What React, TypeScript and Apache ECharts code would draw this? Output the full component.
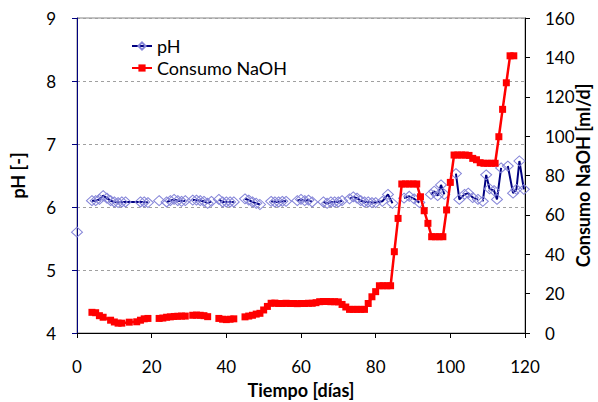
import React, { useEffect, useRef } from "react";
import * as echarts from "echarts";

// pH measurements: [day], null value = gap in the line
const phDays = [
  0, 2,
  4, 5, 6, 7, 8, 9, 10, 11, 12, 13, 17, 18, 19, 20.5,
  22, 23,
  24, 25, 26, 27, 28, 29, 30,
  31, 32, 33, 34, 35, 36, 37,
  38, 39, 40, 41, 42, 43.5,
  45, 46, 47, 48, 49, 50.5,
  52, 53, 54, 55, 56, 57.5,
  59, 60, 61, 62, 63, 64.5,
  66, 67, 68, 69, 70, 71, 72,
  73, 74, 75, 76, 77, 78, 79, 80, 81.8, 83.3, 84.5, 86,
  87.6, 89, 90.3, 91.7, 93,
  94.8, 95.7, 96.6, 97.5, 98.4, 100,
  101.5, 102.4, 103.8, 104.8, 106, 107.4, 108,
  108.7, 109.6, 110.5, 111.7, 112.5, 113.6, 114.5,
  115.4, 116.8, 117.7, 118.5, 119.7,
];
const phValues = [
  5.6, null,
  6.1, 6.1, 6.12, 6.18, 6.14, 6.1, 6.08, 6.07, 6.08, 6.08, 6.08, 6.08, 6.07, null,
  6.1, null,
  6.08, 6.1, 6.12, 6.1, 6.09, 6.1, null,
  6.11, 6.11, 6.1, 6.09, 6.06, 6.09, null,
  6.12, 6.08, 6.08, 6.08, 6.08, null,
  6.13, 6.11, 6.08, 6.06, 6.04, null,
  6.09, 6.08, 6.08, 6.09, 6.09, null,
  6.1, 6.12, 6.1, 6.11, 6.08, null,
  6.08, 6.06, 6.08, 6.08, 6.08, 6.1, null,
  6.13, 6.16, 6.14, 6.1, 6.08, 6.08, 6.07, 6.07, 6.09, 6.2, 6.06, null,
  6.14, 6.17, 6.13, 6.07, null,
  6.2, 6.25, 6.18, 6.35, 6.2, null,
  6.53, 6.12, 6.2, 6.22, 6.15, 6.12, null,
  6.09, 6.51, 6.29, 6.26, 6.12, 6.62, null,
  6.65, 6.22, 6.28, 6.73, 6.28,
];

// Consumo NaOH [ml/d]
const naohDays = [
  4, 5, 6, 7, 9, 10, 11, 12, 14, 16, 17, 18, 19, 20.5,
  22, 23, 24, 25, 26, 27, 28, 29, 30,
  31, 32, 33, 34, 35, 36.5,
  38, 39, 40, 41, 42, 43.5,
  45, 46, 47, 48, 49, 50, 51, 52, 53, 54, 55, 56, 57, 58, 59, 60, 61, 62, 63,
  64, 65, 66, 67, 68, 69, 70, 71, 72, 73, 74, 75, 76, 77, 78, 79, 80,
  81, 82, 83, 84, 85, 86, 87, 88, 89, 90, 91, 92, 93, 94, 95, 96, 97, 98,
  99, 100, 101, 102, 103, 104, 105, 106, 107, 108, 109, 110, 111, 112,
  113, 114, 115, 116, 117,
];
const naohValues = [
  10.5, 10.3, 8.8, 8.0, 6.5, 5.6, 5.0, 5.0, 5.5, 5.7, 6.5, 7.2, 7.4, null,
  7.4, 7.6, 8.0, 8.2, 8.4, 8.5, 8.6, 8.6, null,
  9.0, 9.1, 9.0, 8.8, 8.3, null,
  7.4, 7.0, 6.8, 7.0, 7.2, null,
  8.2, 8.6, 9.0, 9.6, 10.0, 11.7, 13.5, 15.1, 15.2, 15.0, 15.0, 15.1, 15.0, 15.0, 14.9, 15.0, 15.0, 15.1, 15.1,
  15.4, 15.9, 16.0, 16.0, 15.9, 15.9, 15.8, 14.5, 13.2, 12.0, 12.0, 12.0, 12.0, 12.0, 15.0, 18.4, 21.0,
  24.0, 24.0, 24.0, 24.0, 41.3, 58.2, 75.7, 75.7, 75.7, 75.7, 75.7, 69.2, 62.1, 55.7, 48.9, 48.9, 48.9, 48.9,
  62.5, 76.5, 90.4, 90.4, 90.4, 90.4, 90.2, 88.7, 88.0, 86.5, 86.2, 86.2, 86.2, 86.2,
  99.7, 113.6, 127.1, 140.8, 140.8,
];

const xTicks = { min: 0, max: 120, interval: 20 };
const phTicks = { min: 4, max: 9, interval: 1 };
const naohTicks = { min: 0, max: 160, interval: 20 };

const FONT = "Lato, 'Noto Sans', sans-serif";

export default function App() {
  const ref = useRef<HTMLDivElement>(null);

  useEffect(() => {
    if (!ref.current) return;
    const chart = echarts.init(ref.current, undefined, { renderer: "svg" });

    const phData = phDays.map((d, i) => [d, phValues[i] === null ? "-" : phValues[i]]);
    const naohData = naohDays.map((d, i) => [d, naohValues[i] === null ? "-" : naohValues[i]]);

    chart.setOption({
      animation: false,
      textStyle: { fontFamily: FONT },
      grid: {
        left: 77,
        right: 73,
        top: 18,
        bottom: 69,
        outerBoundsMode: "none",
        containLabel: false,
        show: true,
        borderColor: "#868686",
        borderWidth: 1,
        backgroundColor: "transparent",
      },
      legend: {
        orient: "vertical",
        left: 126,
        top: 32,
        itemWidth: 20,
        itemHeight: 9,
        itemGap: 4,
        textStyle: { fontSize: 18, color: "#000", fontFamily: FONT },
        data: ["pH", "Consumo NaOH"],
      },
      xAxis: {
        type: "value",
        ...xTicks,
        name: "Tiempo [días]",
        nameLocation: "middle",
        nameGap: 48,
        nameMoveOverlap: false,
        nameTextStyle: { fontWeight: "bold", fontSize: 18, color: "#000", fontFamily: FONT },
        axisLine: { show: true, onZero: false, lineStyle: { color: "#000", width: 1 } },
        axisTick: { show: true, length: 5, lineStyle: { color: "#000" } },
        axisLabel: { fontSize: 17, color: "#000", margin: 25, fontFamily: FONT },
        splitLine: { show: false },
      },
      yAxis: [
        {
          type: "value",
          ...phTicks,
          name: "pH [-]",
          nameLocation: "middle",
          nameRotate: 90,
          nameGap: 50,
          nameMoveOverlap: false,
          nameTextStyle: { fontWeight: "bold", fontSize: 18, color: "#000", fontFamily: FONT },
          axisLine: { show: true, onZero: false, lineStyle: { color: "#000080", width: 1 } },
          axisTick: { show: true, length: 5, lineStyle: { color: "#000080" } },
          axisLabel: { fontSize: 17, color: "#000", margin: 21, fontFamily: FONT },
          splitLine: { show: true, lineStyle: { type: [3, 3], color: "#a0a0a0", width: 1 } },
        },
        {
          type: "value",
          ...naohTicks,
          position: "right",
          name: "Consumo NaOH [ml/d]",
          nameLocation: "middle",
          nameRotate: 90,
          nameGap: 49,
          nameMoveOverlap: false,
          nameTextStyle: { fontWeight: "bold", fontSize: 18, color: "#000", fontFamily: FONT },
          axisLine: { show: true, onZero: false, lineStyle: { color: "#000", width: 1 } },
          axisTick: { show: true, length: 5, lineStyle: { color: "#000" } },
          axisLabel: { fontSize: 17, color: "#000", margin: 20, fontFamily: FONT },
          splitLine: { show: false },
        },
      ],
      series: [
        {
          name: "pH",
          type: "line",
          yAxisIndex: 0,
          data: phData,
          connectNulls: false,
          symbol: "diamond",
          symbolSize: [11, 10],
          showSymbol: true,
          itemStyle: { color: "rgba(255,255,255,0)", borderColor: "#8585d8", borderWidth: 1 },
          lineStyle: { color: "#000080", width: 2 },
          z: 2,
        },
        {
          name: "Consumo NaOH",
          type: "line",
          yAxisIndex: 1,
          data: naohData,
          connectNulls: false,
          symbol: "rect",
          symbolSize: 7,
          showSymbol: true,
          itemStyle: { color: "#ff0000" },
          lineStyle: { color: "#ff0000", width: 2.5 },
          z: 3,
        },
      ],
    });

    return () => {
      chart.dispose();
    };
  }, []);

  return (
    <div
      ref={ref}
      style={{ position: "fixed", left: 0, top: 0, width: 598, height: 402, background: "#fff" }}
    />
  );
}
